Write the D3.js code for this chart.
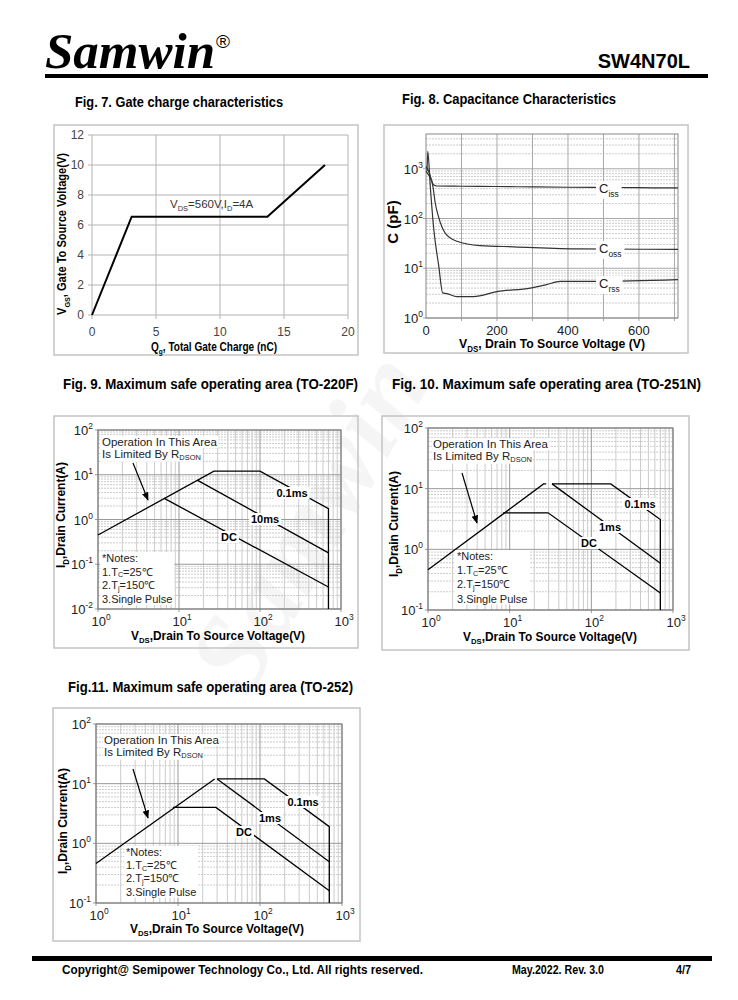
<!DOCTYPE html>
<html>
<head>
<meta charset="utf-8">
<script src="https://cdn.jsdelivr.net/npm/d3@7"></script>
<style>body{margin:0;background:#fff}</style>
</head>
<body>
<div class="canvas"></div>
<script>
// ---- data ----
const gateQ = [0, 3.1, 13.7, 18.2]            // nC
const gateV = [0, 6.55, 6.55, 10]              // V

const cissV = [0, 5, 12, 22, 30, 100, 200, 300, 400, 500, 600, 710]
const cissC = [900, 800, 660, 470, 450, 445, 440, 432, 425, 420, 416, 412]
const cossV = [0, 10, 20, 26, 35, 54, 87, 153, 247, 434, 710]
const cossC = [1100, 800, 420, 205, 110, 51, 35, 28.5, 27, 24.5, 24]
const crssV = [3, 5, 12, 22, 36, 47, 59, 87, 134, 200, 294, 340, 378, 481, 710]
const crssC = [900, 2250, 445, 60, 11, 3.2, 3.1, 2.7, 2.7, 3.4, 4.0, 4.7, 5.45, 5.45, 5.9]

// SOA (VDS [V], ID [A])
const soa9Limit = [[1, 0.45], [27, 12], [100, 12], [700, 1.75], [700, 0.01]]
const soa9Ms10  = [[17, 7.5], [700, 0.18]]
const soa9Dc    = [[6.5, 3], [700, 0.031]]

const soa10Limit = [[1, 0.46], [26, 12], [28, 12]]
const soa10Ms01  = [[33, 12], [173, 12], [700, 3.1], [700, 0.1]]
const soa10Ms1   = [[33, 12], [700, 0.59]]
const soa10Dc    = [[8.3, 4], [29.5, 4], [700, 0.19]]

const soa11Limit = [[1, 0.46], [28, 12]]
const soa11Ms01  = [[30, 12], [113, 12], [700, 1.9], [700, 0.1]]
const soa11Ms1   = [[30, 12], [700, 0.49]]
const soa11Dc    = [[8.7, 4], [29, 4], [700, 0.16]]

const gateYTicks = [0, 2, 4, 6, 8, 10, 12]
const gateXTicks = [0, 5, 10, 15, 20]
const capXTicks = [0, 200, 400, 600]

const SANS = "'Liberation Sans', Arial, sans-serif"
const GRID = "#b4b4b4", MINOR = "#cccccc", FRAME = "#c4c4c4"

const svg = d3.select(".canvas").append("svg").attr("width", 738).attr("height", 1000)

svg.append("defs").append("marker").attr("id", "arr")
  .attr("viewBox", "0 0 10 10").attr("refX", 9).attr("refY", 5)
  .attr("markerWidth", 7).attr("markerHeight", 7).attr("orient", "auto")
  .append("path").attr("d", "M0,1 L10,5 L0,9 z").attr("fill", "#000")

// faint watermark
svg.append("text").attr("transform", "translate(340,540) rotate(-60)")
  .attr("text-anchor", "middle")
  .style("font-family", "'Liberation Serif',serif").style("font-weight", "bold").style("font-style", "italic")
  .style("font-size", "110px").attr("fill", "#f5f5f5").text("Samwin")

// text with sub/superscripts
const addParts = (t, parts, size, subShift = 0.3) => {
  let shift = 0
  parts.forEach(p => {
    const s = typeof p === "string" ? p : p[0]
    const k = typeof p === "string" ? null : p[1]
    const target = k === "sub" ? size * subShift : k === "sup" ? -size * 0.45 : 0
    t.append("tspan").attr("dy", target - shift).style("font-size", k ? (size * 0.65) + "px" : size + "px").text(s)
    shift = target
  })
  return t
}
const label = (x, y, parts, size, opts = {}) => {
  const t = svg.append("text").attr("x", x).attr("y", y)
    .attr("text-anchor", opts.anchor || "start")
    .style("font-family", SANS)
    .style("font-weight", opts.bold ? "bold" : "normal")
    .attr("fill", opts.fill || "#000")
  if (opts.rotate) t.attr("transform", `rotate(-90,${x},${y})`)
  if (opts.len) t.attr("textLength", opts.len).attr("lengthAdjust", "spacingAndGlyphs")
  return addParts(t, parts, size, opts.subShift)
}
const whiteBehind = (sel, pad = 1) => {
  const b = sel.node().getBBox()
  svg.insert("rect", () => sel.node()).attr("x", b.x - pad).attr("y", b.y)
    .attr("width", b.width + 2 * pad).attr("height", b.height).attr("fill", "#fff")
}
const frame = (x, y, w, h) => svg.append("rect").attr("x", x).attr("y", y).attr("width", w).attr("height", h)
  .attr("fill", "none").attr("stroke", FRAME).attr("stroke-width", 1.5)

// ---- header / footer ----
svg.append("text").attr("x", 45).attr("y", 68)
  .style("font-family", "'Liberation Serif','Times New Roman',serif").style("font-weight", "bold")
  .style("font-style", "italic").style("font-size", "51px").text("Samwin")
svg.append("text").attr("x", 216).attr("y", 48).style("font-family", SANS).style("font-size", "19px").text("®")
label(690, 68, ["SW4N70L"], 20, { anchor: "end", bold: true })
svg.append("rect").attr("x", 45).attr("y", 74).attr("width", 663).attr("height", 4).attr("fill", "#000")

svg.append("rect").attr("x", 32).attr("y", 956).attr("width", 680).attr("height", 5).attr("fill", "#000")
label(62, 974, ["Copyright@ Semipower Technology Co., Ltd. All rights reserved."], 13, { bold: true, len: 361 })
label(512, 974, ["May.2022. Rev. 3.0"], 12, { bold: true, len: 92 })
label(676, 974, ["4/7"], 12, { bold: true, len: 15 })

// ---- titles ----
label(75, 107, ["Fig. 7. Gate charge characteristics"], 14, { bold: true, len: 208 })
label(402, 104, ["Fig. 8. Capacitance Characteristics"], 14, { bold: true, len: 214 })
label(63, 389, ["Fig. 9. Maximum safe operating area (TO-220F)"], 14, { bold: true, len: 295 })
label(392, 389, ["Fig. 10. Maximum safe operating area (TO-251N)"], 14, { bold: true, len: 309 })
label(68, 692, ["Fig.11. Maximum safe operating area (TO-252)"], 14, { bold: true, len: 285 })

// ---- Fig 7 gate charge ----
{
  frame(54, 125, 304, 230)
  const x = d3.scaleLinear().domain([0, 20]).range([92, 348])
  const y = d3.scaleLinear().domain([0, 12]).range([315, 135])
  const g = svg.append("g")
  g.selectAll(".h").data(gateYTicks).join("line")
    .attr("x1", x(0) - 4).attr("x2", x(20)).attr("y1", d => y(d)).attr("y2", d => y(d)).attr("stroke", GRID)
  g.selectAll(".v").data(gateXTicks).join("line")
    .attr("x1", d => x(d)).attr("x2", d => x(d)).attr("y1", y(12)).attr("y2", y(0) + 4).attr("stroke", GRID)
  g.selectAll(".yl").data(gateYTicks).join("text")
    .attr("x", x(0) - 8).attr("y", d => y(d) + 4).attr("text-anchor", "end")
    .style("font-family", SANS).style("font-size", "12px").attr("fill", "#444").text(d => d)
  g.selectAll(".xl").data(gateXTicks).join("text")
    .attr("x", d => x(d)).attr("y", 336).attr("text-anchor", "middle")
    .style("font-family", SANS).style("font-size", "12px").attr("fill", "#444").text(d => d)
  g.append("path").datum(gateQ.map((q, i) => [q, gateV[i]]))
    .attr("d", d3.line().x(d => x(d[0])).y(d => y(d[1])))
    .attr("fill", "none").attr("stroke", "#000").attr("stroke-width", 2)
  label(170, 208, ["V", ["DS", "sub"], "=560V,I", ["D", "sub"], "=4A"], 11.5, { fill: "#333" })
  label(214, 351, ["Q", ["g", "sub"], ", Total Gate Charge (nC)"], 12.5, { anchor: "middle", bold: true, len: 126, subShift: 0.2 })
  label(66, 234, ["V", ["GS", "sub"], ",  Gate To  Source Voltage(V)"], 12, { anchor: "middle", bold: true, rotate: true, len: 162 })
}

// ---- Fig 8 capacitance ----
{
  frame(384, 125, 304, 228)
  const x = d3.scaleLinear().domain([0, 710]).range([426, 678])
  const y = d3.scaleLog().domain([1, 5000]).range([318, 134])
  const g = svg.append("g")
  const minor = []
  for (let e = 0; e <= 3; e++) for (let k = 2; k <= 9; k++) if (k * 10 ** e < 5000) minor.push(k * 10 ** e)
  g.selectAll(".mn").data(minor).join("line")
    .attr("x1", x(0)).attr("x2", x(710)).attr("y1", d => y(d)).attr("y2", d => y(d))
    .attr("stroke", MINOR).attr("stroke-dasharray", "2,1")
  g.selectAll(".mj").data([1, 10, 100, 1000]).join("line")
    .attr("x1", x(0) - 3).attr("x2", x(710)).attr("y1", d => y(d)).attr("y2", d => y(d)).attr("stroke", "#a8a8a8")
  g.selectAll(".v").data(d3.range(100, 701, 100)).join("line")
    .attr("x1", d => x(d)).attr("x2", d => x(d)).attr("y1", y(5000)).attr("y2", y(1) + 3).attr("stroke", "#a8a8a8")
  g.append("rect").attr("x", x(0)).attr("y", y(5000)).attr("width", x(710) - x(0)).attr("height", y(1) - y(5000))
    .attr("fill", "none").attr("stroke", "#888")
  g.selectAll(".yl").data([0, 1, 2, 3]).join("text")
    .attr("x", x(0) - 3).attr("y", d => y(10 ** d) + 5).attr("text-anchor", "end")
    .style("font-family", SANS).attr("fill", "#222")
    .each(function (d) { addParts(d3.select(this), ["10", [String(d), "sup"]], 13) })
  g.selectAll(".xl").data(capXTicks).join("text")
    .attr("x", d => x(d)).attr("y", 335).attr("text-anchor", "middle")
    .style("font-family", SANS).style("font-size", "13px").attr("fill", "#222").text(d => d)
  const line = d3.line().x(d => x(d[0])).y(d => y(d[1])).curve(d3.curveMonotoneX)
  const series = [
    [cissV, cissC, 188, "iss"],
    [cossV, cossC, 248, "oss"],
    [crssV, crssC, 283, "rss"]
  ]
  series.forEach(([vs, cs, ly, sub]) => {
    g.append("path").datum(vs.map((v, i) => [v, cs[i]])).attr("d", line)
      .attr("fill", "none").attr("stroke", "#333").attr("stroke-width", 1.2)
    const t = label(599, ly + 5, ["C", [sub, "sub"]], 13, { fill: "#222" })
    whiteBehind(t, 3)
  })
  label(552, 348, ["V", ["DS", "sub"], ", Drain To Source Voltage (V)"], 13, { anchor: "middle", bold: true, len: 186 })
  label(398, 222, ["C (pF)"], 15, { anchor: "middle", bold: true, rotate: true })
}

// ---- SOA charts ----
function drawSoa(o) {
  frame(...o.frame)
  const x = d3.scaleLog().domain([1, 1000]).range(o.xr)
  const y = d3.scaleLog().domain(o.yd).range(o.yr)
  const g = svg.append("g")
  const e0 = Math.round(Math.log10(o.yd[0])), e1 = Math.round(Math.log10(o.yd[1]))
  const xMinor = [], yMinor = []
  for (let e = 0; e < 3; e++) for (let k = 2; k <= 9; k++) xMinor.push(k * 10 ** e)
  for (let e = e0; e < e1; e++) for (let k = 2; k <= 9; k++) yMinor.push(k * 10 ** e)
  const xMajor = [1, 10, 100, 1000], yMajor = d3.range(e0, e1 + 1).map(e => 10 ** e)
  g.selectAll(".xm").data(xMinor).join("line")
    .attr("x1", d => x(d)).attr("x2", d => x(d)).attr("y1", o.yr[1]).attr("y2", o.yr[0]).attr("stroke", MINOR)
  g.selectAll(".ym").data(yMinor).join("line")
    .attr("x1", o.xr[0]).attr("x2", o.xr[1]).attr("y1", d => y(d)).attr("y2", d => y(d))
    .attr("stroke", MINOR).attr("stroke-dasharray", "2,1")
  g.selectAll(".xM").data(xMajor).join("line")
    .attr("x1", d => x(d)).attr("x2", d => x(d)).attr("y1", o.yr[1]).attr("y2", o.yr[0] + 3).attr("stroke", "#999")
  g.selectAll(".yM").data(yMajor).join("line")
    .attr("x1", o.xr[0] - 3).attr("x2", o.xr[1]).attr("y1", d => y(d)).attr("y2", d => y(d)).attr("stroke", "#999")
  g.append("rect").attr("x", o.xr[0]).attr("y", o.yr[1]).attr("width", o.xr[1] - o.xr[0]).attr("height", o.yr[0] - o.yr[1])
    .attr("fill", "none").attr("stroke", "#777")
  g.selectAll(".yl").data(yMajor).join("text")
    .attr("x", o.xr[0] - 5).attr("y", d => y(d) + 5).attr("text-anchor", "end")
    .style("font-family", SANS).attr("fill", "#222")
    .each(function (d) { addParts(d3.select(this), ["10", [String(Math.round(Math.log10(d))), "sup"]], 13) })
  g.selectAll(".xl").data(xMajor).join("text")
    .attr("x", d => x(d) + 3).attr("y", o.yr[0] + 17).attr("text-anchor", "middle")
    .style("font-family", SANS).attr("fill", "#222")
    .each(function (d) { addParts(d3.select(this), ["10", [String(Math.round(Math.log10(d))), "sup"]], 13) })

  const line = d3.line().x(d => x(d[0])).y(d => y(d[1]))
  o.lines.forEach(pts => g.append("path").datum(pts).attr("d", line)
    .attr("fill", "none").attr("stroke", "#000").attr("stroke-width", 1.3))

  o.tags.forEach(([txt, lx, ly]) => whiteBehind(label(lx, ly, [txt], 11, { anchor: "middle", bold: true }), 2))

  whiteBehind(label(o.op[0], o.op[1], ["Operation In This Area"], 11.5, { fill: "#222" }), 1)
  whiteBehind(label(o.op[0], o.op[1] + 12, ["Is Limited By R", ["DSON", "sub"]], 11.5, { fill: "#222", subShift: 0.15 }), 1)
  svg.append("line").attr("x1", o.arrow[0]).attr("y1", o.arrow[1]).attr("x2", o.arrow[2]).attr("y2", o.arrow[3])
    .attr("stroke", "#000").attr("stroke-width", 1.2).attr("marker-end", "url(#arr)")

  const notes = [["*Notes:"], ["1.T", ["C", "sub"], "=25℃"], ["2.T", ["j", "sub"], "=150℃"], ["3.Single Pulse"]]
  const nb = svg.append("rect").attr("fill", "#fff")
  const ng = notes.map((n, i) => label(o.notes[0], o.notes[1] + i * o.notes[2], n, 11, { fill: "#222", subShift: 0.12 }))
  const boxes = ng.map(t => t.node().getBBox())
  const bx = d3.min(boxes, b => b.x), by = d3.min(boxes, b => b.y)
  nb.attr("x", bx - 2).attr("y", by).attr("width", d3.max(boxes, b => b.x + b.width) - bx + 4)
    .attr("height", d3.max(boxes, b => b.y + b.height) - by)

  label(o.xlab[0], o.xlab[1], ["V", ["DS", "sub"], ",Drain To Source Voltage(V)"], 12.5, { anchor: "middle", bold: true, len: 174, subShift: 0.2 })
  label(o.ylab[0], o.ylab[1], ["I", ["D", "sub"], ",Drain Current(A)"], 13, { anchor: "middle", bold: true, rotate: true, len: 106 })
}

drawSoa({
  frame: [54, 416, 304, 232], xr: [98, 341], yd: [0.01, 100], yr: [609, 430],
  lines: [soa9Limit, soa9Ms10, soa9Dc],
  tags: [["0.1ms", 292, 497], ["10ms", 265, 523], ["DC", 229, 541]],
  op: [102, 446], arrow: [133, 463, 148, 500], notes: [102, 562, 13.6],
  xlab: [218, 640], ylab: [65, 515]
})
drawSoa({
  frame: [382, 416, 307, 234], xr: [428, 673], yd: [0.1, 100], yr: [610, 428],
  lines: [soa10Limit, soa10Ms01, soa10Ms1, soa10Dc],
  tags: [["0.1ms", 640, 508], ["1ms", 610, 531], ["DC", 589, 547]],
  op: [433, 448], arrow: [462, 473, 477, 523], notes: [457, 560, 14.2],
  xlab: [550, 641], ylab: [398, 524]
})
drawSoa({
  frame: [53, 708, 307, 233], xr: [96, 342], yd: [0.1, 100], yr: [903, 724],
  lines: [soa11Limit, soa11Ms01, soa11Ms1, soa11Dc],
  tags: [["0.1ms", 303, 806], ["1ms", 270, 822], ["DC", 244, 836]],
  op: [104, 744], arrow: [133, 769, 148, 818], notes: [126, 856, 13.2],
  xlab: [217, 933], ylab: [67, 821]
})
</script>
</body>
</html>
